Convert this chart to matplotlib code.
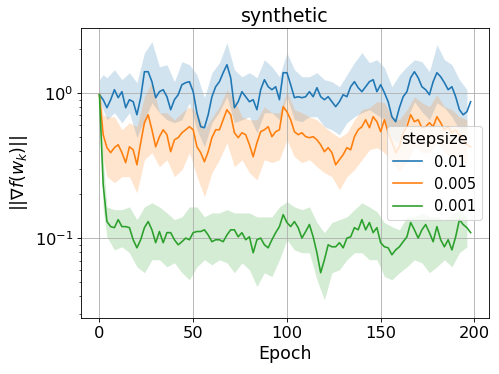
import matplotlib
matplotlib.use('Agg')
import matplotlib.pyplot as plt
import numpy as np

# mean gradient norm, read every 2 epochs
epochs = np.arange(0, 200, 2)
band_epochs = np.array([0, 2] + list(range(4, 197, 4)))
labels = ['0.01', '0.005', '0.001']

mean_001 = [
    0.973, 0.899, 0.792, 0.899, 1.054, 0.928, 1.021, 0.792, 0.899, 0.871,
    0.708, 0.928, 1.402, 1.402, 1.197, 0.928, 1.021, 1.054, 0.943, 0.767,
    0.899, 0.973, 1.141, 1.178, 1.197, 1.021, 0.731, 0.586, 0.576, 0.708,
    0.943, 1.105, 1.197, 1.380, 1.567, 1.275, 0.792, 0.871, 1.021, 0.943,
    0.871, 0.899, 0.767, 1.054, 1.235, 1.105, 1.054, 1.105, 0.899, 1.380,
    1.380, 1.141, 0.928, 0.943, 0.928, 0.943, 1.021, 0.943, 1.088, 0.943,
    0.899, 0.943, 0.871, 0.805, 0.871, 0.973, 0.943, 1.105, 1.197, 1.088,
    1.021, 1.105, 1.197, 1.235, 1.021, 1.141, 1.005, 0.871, 0.686, 0.634,
    0.792, 0.943, 1.021, 1.275, 1.402, 1.275, 1.105, 1.054, 0.973, 1.197,
    1.380, 1.295, 1.178, 1.054, 1.105, 0.943, 0.767, 0.708, 0.743, 0.871,
]
mean_0005 = [
    0.973, 0.516, 0.420, 0.388, 0.420, 0.440, 0.388, 0.331, 0.426, 0.406,
    0.320, 0.454, 0.624, 0.708, 0.558, 0.426, 0.500, 0.558, 0.516, 0.394,
    0.476, 0.492, 0.532, 0.558, 0.586, 0.558, 0.426, 0.388, 0.336, 0.394,
    0.492, 0.558, 0.558, 0.654, 0.767, 0.708, 0.532, 0.492, 0.532, 0.516,
    0.440, 0.364, 0.454, 0.541, 0.558, 0.586, 0.500, 0.541, 0.558, 0.805,
    0.743, 0.654, 0.541, 0.516, 0.532, 0.500, 0.492, 0.500, 0.476, 0.440,
    0.394, 0.420, 0.388, 0.320, 0.347, 0.376, 0.420, 0.406, 0.500, 0.558,
    0.586, 0.654, 0.576, 0.686, 0.634, 0.541, 0.654, 0.532, 0.461, 0.388,
    0.426, 0.532, 0.586, 0.708, 0.634, 0.654, 0.576, 0.586, 0.624, 0.586,
    0.686, 0.624, 0.558, 0.586, 0.532, 0.558, 0.516, 0.476, 0.440, 0.426,
]
mean_0001 = [
    0.973, 0.233, 0.130, 0.120, 0.118, 0.134, 0.120, 0.120, 0.118, 0.0974,
    0.0857, 0.0974, 0.118, 0.130, 0.114, 0.0929, 0.111, 0.0929, 0.109, 0.109,
    0.0974, 0.0899, 0.0944, 0.100, 0.0974, 0.109, 0.111, 0.111, 0.114, 0.105,
    0.0944, 0.0974, 0.0974, 0.0944, 0.105, 0.114, 0.114, 0.102, 0.109, 0.0974,
    0.102, 0.0792, 0.0974, 0.100, 0.0899, 0.0857, 0.0974, 0.109, 0.120, 0.145,
    0.128, 0.120, 0.130, 0.118, 0.100, 0.111, 0.124, 0.102, 0.0792, 0.0577,
    0.0709, 0.0899, 0.0871, 0.0871, 0.0929, 0.0857, 0.100, 0.102, 0.118, 0.114,
    0.134, 0.114, 0.128, 0.109, 0.118, 0.0929, 0.0871, 0.0857, 0.0767, 0.0829,
    0.0871, 0.0944, 0.102, 0.128, 0.114, 0.100, 0.114, 0.124, 0.109, 0.0944,
    0.120, 0.0974, 0.0871, 0.0974, 0.0829, 0.102, 0.134, 0.124, 0.118, 0.109,
]

# shaded band edges, read at band_epochs
upper_001 = [
    1.235, 1.337, 1.275, 1.448, 1.235, 1.380, 1.178, 1.896, 2.258, 1.518, 1.567,
    1.197, 1.644, 1.567, 1.337, 0.928, 1.380, 1.618, 2.222, 1.448, 1.295,
    1.380, 1.275, 1.697, 1.518, 1.295, 1.896, 1.448, 1.295, 1.295, 1.380,
    1.235, 1.197, 1.105, 1.337, 1.618, 1.896, 1.618, 1.697, 1.494, 1.105,
    1.337, 1.518, 1.697, 1.644, 1.402, 2.153, 1.697, 1.567, 1.235, 1.054,
]
lower_001 = [
    0.899, 0.767, 0.654, 0.731, 0.624, 0.731, 0.492, 0.654, 0.857, 0.731, 0.654,
    0.624, 0.654, 0.857, 0.558, 0.426, 0.624, 0.743, 0.943, 0.624, 0.654,
    0.686, 0.532, 0.731, 0.731, 0.654, 0.943, 0.654, 0.634, 0.686, 0.686,
    0.586, 0.558, 0.516, 0.624, 0.686, 0.731, 0.767, 0.708, 0.654, 0.476,
    0.454, 0.654, 0.871, 0.743, 0.654, 0.857, 0.792, 0.686, 0.558, 0.558,
]
upper_0005 = [
    1.05, 0.708, 0.686, 0.686, 0.558, 0.624, 0.586, 0.943, 1.197, 0.731, 0.731,
    0.654, 0.731, 0.805, 0.731, 0.558, 0.676, 0.805, 1.054, 0.899, 0.686,
    0.654, 0.654, 0.805, 0.731, 0.731, 1.021, 0.767, 0.731, 0.686, 0.654,
    0.586, 0.532, 0.492, 0.532, 0.654, 0.767, 0.792, 0.871, 0.857, 0.686,
    0.654, 0.767, 0.943, 0.857, 0.805, 0.973, 0.805, 0.767, 0.686, 0.654,
]
lower_0005 = [
    0.92, 0.347, 0.265, 0.241, 0.265, 0.265, 0.205, 0.347, 0.388, 0.310, 0.347,
    0.265, 0.296, 0.388, 0.265, 0.193, 0.282, 0.347, 0.454, 0.310, 0.347,
    0.282, 0.252, 0.347, 0.331, 0.347, 0.476, 0.364, 0.331, 0.347, 0.310,
    0.282, 0.265, 0.215, 0.265, 0.296, 0.347, 0.406, 0.420, 0.388, 0.331,
    0.287, 0.331, 0.426, 0.388, 0.388, 0.454, 0.388, 0.364, 0.347, 0.310,
]
upper_0001 = [
    1.05, 0.347, 0.164, 0.157, 0.157, 0.164, 0.134, 0.164, 0.175, 0.164, 0.149,
    0.134, 0.140, 0.164, 0.164, 0.140, 0.149, 0.149, 0.157, 0.149, 0.149,
    0.149, 0.140, 0.140, 0.140, 0.164, 0.178, 0.164, 0.157, 0.164, 0.128,
    0.109, 0.128, 0.134, 0.140, 0.157, 0.175, 0.164, 0.152, 0.128, 0.120,
    0.114, 0.140, 0.140, 0.149, 0.140, 0.140, 0.134, 0.145, 0.157, 0.140,
]
lower_0001 = [
    0.92, 0.157, 0.102, 0.0829, 0.0871, 0.0792, 0.0634, 0.0577, 0.0709, 0.0709, 0.0634,
    0.0675, 0.0577, 0.0516, 0.0634, 0.0709, 0.0654, 0.0709, 0.0675, 0.0577, 0.0675,
    0.0605, 0.0464, 0.0577, 0.0543, 0.0709, 0.0974, 0.0829, 0.0792, 0.0792, 0.0516,
    0.0375, 0.0577, 0.0605, 0.0709, 0.0792, 0.0792, 0.0709, 0.0709, 0.0543, 0.0516,
    0.0577, 0.0634, 0.0709, 0.0675, 0.0577, 0.0634, 0.0709, 0.0634, 0.0792, 0.0871,
]

means = [mean_001, mean_0005, mean_0001]
uppers = [upper_001, upper_0005, upper_0001]
lowers = [lower_001, lower_0005, lower_0001]

fig, ax = plt.subplots(figsize=(6.4, 4.8), dpi=78)
fig.subplots_adjust(left=0.162, right=0.98, top=0.925, bottom=0.15)

for i in range(3):
    c = 'C%d' % i
    ax.fill_between(band_epochs, lowers[i], uppers[i], color=c, alpha=0.2, linewidth=0)
    ax.plot(epochs, means[i], color=c, lw=1.5, label=labels[i])

ax.set_yscale('log')
ax.set_xlim(-9.9, 207.9)
ax.set_ylim(0.0282, 2.82)
ax.set_xticks([0, 50, 100, 150, 200])
ax.grid(True, which='major')
ax.tick_params(labelsize=15)
ax.set_xlabel('Epoch', fontsize=16)
ax.set_ylabel(r'$||\nabla f(w_k)||$', fontsize=16)
ax.set_title('synthetic', fontsize=17.5)
ax.legend(title='stepsize', loc='center right', fontsize=13.5, title_fontsize=15)

fig.savefig('out.png', dpi=78)
